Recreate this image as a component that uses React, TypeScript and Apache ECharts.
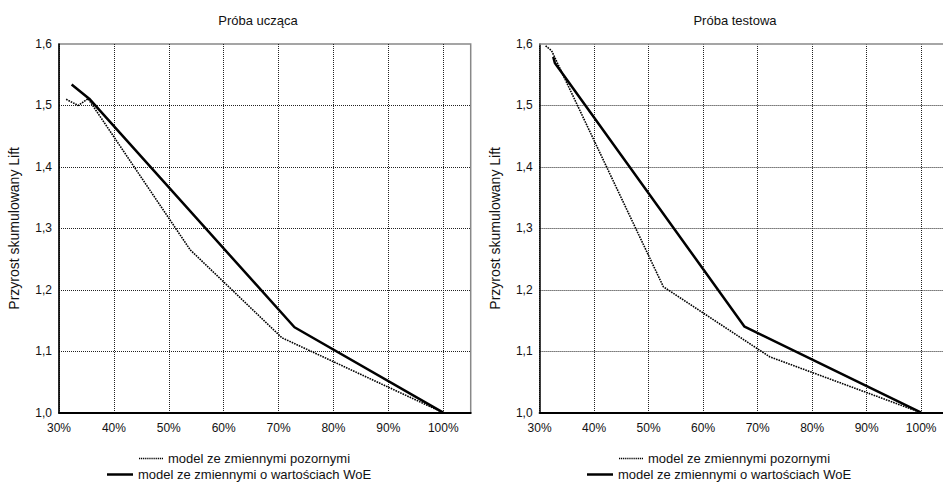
import React, { useEffect, useRef } from "react";
import * as echarts from "echarts";

const seriesNames = ["model ze zmiennymi pozornymi", "model ze zmiennymi o wartościach WoE"];
const panelTitles = ["Próba ucząca", "Próba testowa"];
const yTitle = "Przyrost skumulowany Lift";

// [share of sample %, cumulative lift]
const trainDummy = [[31.3, 1.51], [33.5, 1.5], [35.3, 1.511], [53.9, 1.265], [70.6, 1.122], [100, 1.0]];
const trainWoe = [[32.3, 1.534], [35.5, 1.511], [72.9, 1.139], [100, 1.0]];
const testDummy = [[31.1, 1.597], [32.2, 1.589], [52.7, 1.205], [72.2, 1.091], [100, 1.0]];
const testWoe = [[32.5, 1.579], [32.8, 1.569], [67.6, 1.14], [100, 1.0]];

const FONT = "Liberation Sans, Arial, sans-serif";

function dottedIcon(): string {
  let d = "path://";
  for (let i = 0; i < 13; i++) {
    d += `M${i * 2},0h1.2v1.6h-1.2z`;
  }
  return d;
}

export default function App() {
  const ref = useRef<HTMLDivElement>(null);
  useEffect(() => {
    document.body.style.margin = "0";
    const chart = echarts.init(ref.current!, null, { renderer: "svg" });
    const grids = [
      { left: 59, width: 411.7, top: 44, bottom: 71.3, show: true, borderColor: "#888", borderWidth: 1.5, backgroundColor: "transparent" },
      { left: 539.6, right: 0, top: 44, bottom: 71.3, show: false },
    ];
    const xMax = [105, 104];
    const xAxis: any[] = grids.map((_, i) => ({
      type: "value",
      gridIndex: i,
      min: 30,
      max: xMax[i],
      interval: 10,
      axisLine: { show: true, lineStyle: { color: "#000", width: 2 } },
      axisTick: { show: false },
      axisLabel: {
        color: "#111",
        fontSize: 12,
        fontFamily: FONT,
        margin: 9,
        showMaxLabel: false,
        formatter: (v: number) => (v > 100 ? "" : v + "%"),
      },
      splitLine: { show: true, showMaxLine: false, lineStyle: { color: "#222", width: 1, type: [1, 1] } },
    }));
    // top frame line of the second panel
    xAxis.push({
      type: "value",
      gridIndex: 1,
      position: "top",
      min: 30,
      max: xMax[1],
      axisLine: { show: true, onZero: false, lineStyle: { color: "#888", width: 1.5 } },
      axisTick: { show: false },
      axisLabel: { show: false },
      splitLine: { show: false },
    });
    const yAxis = grids.map((_, i) => ({
      type: "value",
      gridIndex: i,
      min: 1.0,
      max: 1.6,
      interval: 0.1,
      name: yTitle,
      nameLocation: "middle",
      nameGap: 38,
      nameTextStyle: { color: "#111", fontSize: 14, fontFamily: FONT },
      axisLine: { show: true, lineStyle: { color: "#000", width: 1.5 } },
      axisTick: { show: false },
      axisLabel: {
        color: "#111",
        fontSize: 12,
        fontFamily: FONT,
        margin: 7,
        formatter: (v: number) => v.toFixed(1).replace(".", ","),
      },
      splitLine: { show: true, showMaxLine: false, lineStyle: { color: "#222", width: 1, type: [1, 1] } },
    }));
    const dummyStyle = { color: "#000", width: 1.6, type: [1.6, 1] };
    const woeStyle = { color: "#000", width: 2.5, type: "solid" };
    const mk = (name: string, data: number[][], idx: number, ls: any) => ({
      type: "line",
      name,
      data,
      xAxisIndex: idx,
      yAxisIndex: idx,
      symbol: "none",
      lineStyle: ls,
      itemStyle: { color: ls.color },
    });
    const legendText = { color: "#111", fontSize: 13, fontFamily: FONT };
    const dotItem = { name: seriesNames[0], icon: dottedIcon() };
    const solidItem = { name: seriesNames[1], icon: "rect" };
    chart.setOption({
      animation: false,
      title: [
        { text: panelTitles[0], left: 253, top: 9, textAlign: "center", textStyle: { fontSize: 13, fontWeight: "normal", color: "#111", fontFamily: FONT } },
        { text: panelTitles[1], left: 730, top: 9, textAlign: "center", textStyle: { fontSize: 13, fontWeight: "normal", color: "#111", fontFamily: FONT } },
      ],
      grid: grids,
      xAxis,
      yAxis,
      legend: [
        { data: [dotItem], left: 139, top: 452, padding: 0, itemWidth: 24, itemHeight: 1.6, textStyle: legendText, selectedMode: false },
        { data: [solidItem], left: 107, top: 468, padding: 0, itemWidth: 26, itemHeight: 2.5, textStyle: legendText, selectedMode: false },
        { data: [dotItem], left: 619, top: 452, padding: 0, itemWidth: 24, itemHeight: 1.6, textStyle: legendText, selectedMode: false },
        { data: [solidItem], left: 587, top: 468, padding: 0, itemWidth: 26, itemHeight: 2.5, textStyle: legendText, selectedMode: false },
      ],
      series: [
        mk(seriesNames[0], trainDummy, 0, dummyStyle),
        mk(seriesNames[1], trainWoe, 0, woeStyle),
        mk(seriesNames[0], testDummy, 1, dummyStyle),
        mk(seriesNames[1], testWoe, 1, woeStyle),
      ],
    });
    return () => chart.dispose();
  }, []);
  return <div ref={ref} style={{ width: 943, height: 484 }} />;
}
